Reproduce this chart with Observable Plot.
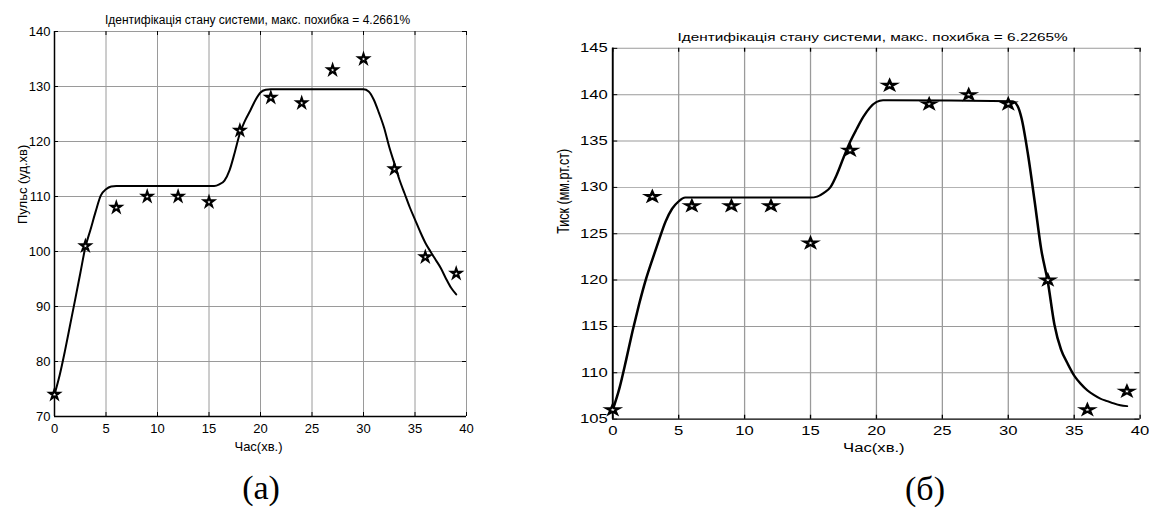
<!DOCTYPE html>
<html>
<head>
<meta charset="utf-8">
<script src="https://cdn.jsdelivr.net/npm/d3@7"></script>
<script src="https://cdn.jsdelivr.net/npm/@observablehq/plot@0.6"></script>
<style>
  html, body { margin: 0; padding: 0; background: white; }
  #page { position: relative; width: 1149px; height: 509px; overflow: hidden; background: white; }
  #left { position: absolute; left: 0px; top: 0px; }
  #right { position: absolute; left: 542.9px; top: 17.64px; transform: scale(1.28, 0.9631); transform-origin: 0 0; }
  .cap { position: absolute; font-family: "Liberation Serif", "Times New Roman", serif; font-size: 34px; line-height: 34px; height: 34px; transform: translate(-50%, -50%); white-space: nowrap; }
</style>
</head>
<body>
<div id="page">
  <div id="left"></div>
  <div id="right"></div>
  <div class="cap" style="left:261px; top:488px;">(a)</div>
  <div class="cap" style="left:925px; top:489px;">(б)</div>
</div>
<script>
// ---- data ----
const xTicks = [0, 5, 10, 15, 20, 25, 30, 35, 40];
const pulseTicks = [70, 80, 90, 100, 110, 120, 130, 140];
const pressureTicks = [105, 110, 115, 120, 125, 130, 135, 140, 145];

const obsTime = [0, 3, 6, 9, 12, 15, 18, 21, 24, 27, 30, 33, 36, 39];
const pulseObserved = [74, 101, 108, 110, 110, 109, 122, 128, 127, 133, 135, 115, 99, 96];
const pressureObserved = [106, 129, 128, 128, 128, 124, 134, 141, 139, 140, 139, 120, 106, 108];

const pulseModelTime = [0, 0.5, 1, 1.5, 2, 2.5, 3, 3.5, 4, 4.5, 5, 5.5, 6, 15.5, 16, 16.5, 17, 17.5, 18, 18.5, 19, 19.5, 20, 20.5, 21, 30, 30.5, 31, 31.5, 32, 32.5, 33, 33.5, 34, 34.5, 35, 35.5, 36, 36.5, 37, 37.5, 38, 38.5, 39];
const pulseModel = [74, 77.5, 81.8, 86.5, 91.2, 96, 100.8, 104, 107.3, 110.2, 111.3, 111.8, 111.9, 111.9, 112.2, 112.9, 114.8, 118, 121.5, 123.8, 125.6, 127.5, 128.9, 129.4, 129.5, 129.5, 129.1, 127.6, 125.2, 122.5, 119, 116, 113, 110.5, 108, 105.8, 103.6, 101.6, 100, 98.5, 97, 95.1, 93.4, 92.2];

const pressureModelTime = [0, 0.5, 1, 1.5, 2, 2.5, 3, 3.5, 4, 4.5, 5, 5.5, 15, 15.5, 16, 16.5, 17, 17.5, 18, 18.5, 19, 19.5, 20, 20.5, 21, 30.3, 30.7, 31, 31.5, 32, 32.5, 33, 33.5, 34, 34.5, 35, 35.5, 36, 36.5, 37, 37.5, 38, 38.5, 39];
const pressureModel = [106, 108.3, 111.3, 114.5, 117.4, 120.0, 122.2, 124.3, 126.3, 127.7, 128.5, 128.9, 128.9, 129.0, 129.4, 130.0, 131.4, 133.2, 134.9, 136.3, 137.6, 138.6, 139.2, 139.4, 139.4, 139.3, 138.8, 137.5, 133.5, 128.5, 123.3, 119.8, 115.2, 112.5, 111.0, 109.7, 108.8, 108.1, 107.6, 107.2, 106.95, 106.7, 106.5, 106.4];

const xLabel = "Час(хв.)";

function makeChart(cfg) {
  const W = 480, H = 470, mL = 54, mR = 14, mT = 31, mB = 54;
  const fw = W - mL - mR, fh = H - mT - mB;
  const obs = cfg.obsT.map((t, i) => ({t, v: cfg.obsV[i]}));
  const model = cfg.modelT.map((t, i) => ({t, v: cfg.modelV[i]}));
  const ymin = cfg.yTicks[0];
  const grid = "#9a9a9a";
  return Plot.plot({
    width: W, height: H,
    marginLeft: mL, marginRight: mR, marginTop: mT, marginBottom: mB,
    style: {fontFamily: '"Liberation Sans", Arial, sans-serif', fontSize: "13px", background: "white", color: "black"},
    x: {domain: [0, 40], ticks: xTicks},
    y: {domain: [cfg.yTicks[0], cfg.yTicks[cfg.yTicks.length - 1]], ticks: cfg.yTicks},
    marks: [
      Plot.gridX(xTicks.slice(1), {stroke: grid, strokeOpacity: 1, strokeWidth: 1}),
      Plot.gridY(cfg.yTicks.slice(1), {stroke: grid, strokeOpacity: 1, strokeWidth: 1}),
      Plot.ruleX(xTicks, {insetTop: fh - 4, stroke: "black", strokeWidth: 1}),
      Plot.ruleX(xTicks, {insetBottom: fh - 4, stroke: "black", strokeWidth: 1}),
      Plot.ruleY(cfg.yTicks, {insetRight: fw - 4, stroke: "black", strokeWidth: 1}),
      Plot.ruleY(cfg.yTicks, {insetLeft: fw - 4, stroke: "black", strokeWidth: 1}),
      Plot.ruleX([0], {stroke: "black", strokeWidth: 1.5}),
      Plot.ruleY([ymin], {stroke: "black", strokeWidth: 1.5}),
      Plot.axisX({ticks: xTicks, tickSize: 0, tickPadding: 7, label: null, fontSize: 13}),
      Plot.axisY({ticks: cfg.yTicks, tickSize: 0, tickPadding: 4, label: null, fontSize: 13}),
      Plot.line(model, {x: "t", y: "v", stroke: "black", strokeWidth: 2, curve: "monotone-x"}),
      Plot.dot(obs, {x: "t", y: "v", symbol: "star", r: 3.1, fill: "white", stroke: "black", strokeWidth: 2.1}),
      Plot.text([cfg.title], {text: d => d, frameAnchor: "top", dy: -16, dx: -3, fontSize: 12}),
      Plot.text([xLabel], {text: d => d, frameAnchor: "bottom", dy: 34, dx: -2, fontSize: 13}),
      Plot.text([cfg.yLabel], {text: d => d, frameAnchor: "left", dx: cfg.yLabelDx, rotate: -90, fontSize: 13})
    ]
  });
}

document.getElementById("left").append(makeChart({
  title: "Ідентифікація стану системи, макс. похибка = 4.2661%",
  yLabel: "Пульс (уд.хв)",
  yLabelDx: -32,
  yTicks: pulseTicks,
  obsT: obsTime, obsV: pulseObserved,
  modelT: pulseModelTime, modelV: pulseModel
}));

document.getElementById("right").append(makeChart({
  title: "Ідентифікація стану системи, макс. похибка = 6.2265%",
  yLabel: "Тиск (мм.рт.ст)",
  yLabelDx: -38,
  yTicks: pressureTicks,
  obsT: obsTime, obsV: pressureObserved,
  modelT: pressureModelTime, modelV: pressureModel
}));
</script>
</body>
</html>
